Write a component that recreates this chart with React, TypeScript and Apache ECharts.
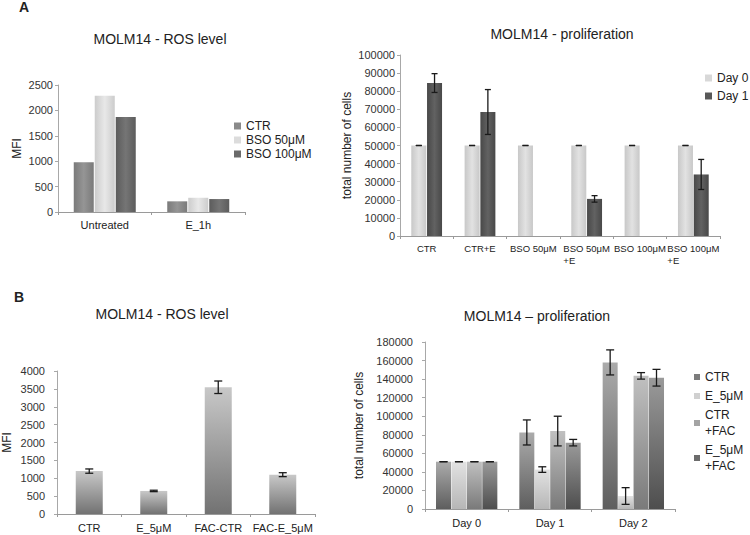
import React, { useEffect, useRef } from 'react';
import * as echarts from 'echarts';

// ---------- Panel A, ROS level ----------
const rosACategories = ['Untreated', 'E_1h'];
const rosACtr = [980, 210];
const rosABso50 = [2290, 280];
const rosABso100 = [1870, 255];
const rosATicks = { max: 2500, interval: 500 };

// ---------- Panel A, proliferation ----------
const profACategories = ['CTR', 'CTR+E', 'BSO 50μM', 'BSO 50μM\n+E', 'BSO 100μM', 'BSO 100μM\n+E'];
const profADay0 = [50000, 50000, 50000, 50000, 50000, 50000];
const profADay0Err = [0, 0, 0, 0, 0, 0];
const profADay1 = [84500, 68500, 0, 20500, 0, 34000];
const profADay1Err = [5200, 12400, 0, 1800, 0, 8300];
const profATicks = { max: 100000, interval: 10000 };

// ---------- Panel B, ROS level ----------
const rosBCategories = ['CTR', 'E_5μM', 'FAC-CTR', 'FAC-E_5μM'];
const rosBValues = [1200, 645, 3545, 1100];
const rosBErr = [60, 20, 175, 55];
const rosBTicks = { max: 4000, interval: 500 };

// ---------- Panel B, proliferation ----------
const profBCategories = ['Day 0', 'Day 1', 'Day 2'];
const profBCtr = [51000, 82500, 158000];
const profBCtrErr = [0, 13500, 13500];
const profBE5 = [51000, 42500, 14000];
const profBE5Err = [0, 3000, 9000];
const profBCtrFac = [51000, 84000, 143500];
const profBCtrFacErr = [0, 16000, 3500];
const profBE5Fac = [51000, 71500, 141500];
const profBE5FacErr = [0, 3500, 9000];
const profBTicks = { max: 180000, interval: 20000 };

const FONT = '"Liberation Sans", Arial, Helvetica, sans-serif';

const hGrad = (edge: string, mid: string) =>
  new echarts.graphic.LinearGradient(0, 0, 1, 0, [
    { offset: 0, color: edge },
    { offset: 0.5, color: mid },
    { offset: 1, color: edge },
  ]);
const vGrad = (top: string, bottom: string) =>
  new echarts.graphic.LinearGradient(0, 0, 0, 1, [
    { offset: 0, color: top },
    { offset: 1, color: bottom },
  ]);

const errData = (values: number[], errs: number[], si: number) =>
  values
    .map((v, i) => (v > 0 ? [i, v - errs[i], v + errs[i], si] : null))
    .filter((d) => d !== null) as number[][];

const makeErrorRender = (n: number, barW: number, gap: number, cap: number) => (_params: any, api: any) => {
  const cat = api.value(0);
  const lo = api.value(1);
  const hi = api.value(2);
  const si = api.value(3);
  const top = api.coord([cat, hi]);
  const bot = api.coord([cat, lo]);
  const x = top[0] + (si - (n - 1) / 2) * barW * (1 + gap);
  const style = { stroke: '#1a1a1a', lineWidth: 1.3 };
  return {
    type: 'group',
    children: [
      { type: 'line', shape: { x1: x, y1: top[1], x2: x, y2: bot[1] }, style },
      { type: 'line', shape: { x1: x - cap, y1: top[1], x2: x + cap, y2: top[1] }, style },
      { type: 'line', shape: { x1: x - cap, y1: bot[1], x2: x + cap, y2: bot[1] }, style },
    ],
  };
};

const yAxis = (gridIndex: number, ticks: { max: number; interval: number }, name: string, nameGap: number, margin: number) => ({
  type: 'value',
  gridIndex,
  min: 0,
  max: ticks.max,
  interval: ticks.interval,
  name,
  nameLocation: 'middle',
  nameRotate: 90,
  nameGap,
  nameTextStyle: { fontSize: 12, color: '#222', fontFamily: FONT },
  axisLine: { show: true, lineStyle: { color: '#a8a8a8', width: 1 } },
  axisTick: { show: true, length: 3, lineStyle: { color: '#a8a8a8' } },
  axisLabel: { fontSize: 11, color: '#333', margin, fontFamily: FONT, formatter: (v: number) => String(v) },
  splitLine: { show: false },
});

const xAxis = (gridIndex: number, data: string[], margin: number, extra: any = {}) => ({
  type: 'category',
  gridIndex,
  data,
  axisLine: { show: true, lineStyle: { color: '#9a9a9a', width: 1 } },
  axisTick: { show: true, length: 3, alignWithLabel: false, lineStyle: { color: '#9a9a9a' } },
  axisLabel: { fontSize: 11, color: '#222', margin, interval: 0, fontFamily: FONT, ...extra },
  splitLine: { show: false },
});

const titleStyle = { fontSize: 14, fontWeight: 'normal', color: '#222', fontFamily: FONT };
const legendText = { fontSize: 12, color: '#222', fontFamily: FONT };

export default function App() {
  const ref = useRef<HTMLDivElement>(null);

  useEffect(() => {
    if (!ref.current) return;
    const chart = echarts.init(ref.current, undefined, { renderer: 'svg' });

    const option: any = {
      animation: false,
      backgroundColor: '#ffffff',
      textStyle: { fontFamily: FONT },
      title: [
        { text: 'A', left: 19, top: 0, padding: 0, textStyle: { ...titleStyle, fontWeight: 'bold', fontSize: 14 } },
        { text: 'MOLM14 - ROS level', left: 160, top: 32, padding: 0, textAlign: 'center', textStyle: titleStyle },
        { text: 'MOLM14 - proliferation', left: 562, top: 27, padding: 0, textAlign: 'center', textStyle: titleStyle },
        { text: 'B', left: 14, top: 290, padding: 0, textStyle: { ...titleStyle, fontWeight: 'bold', fontSize: 14 } },
        { text: 'MOLM14 - ROS level', left: 162, top: 307, padding: 0, textAlign: 'center', textStyle: titleStyle },
        { text: 'MOLM14 – proliferation', left: 537, top: 309, padding: 0, textAlign: 'center', textStyle: titleStyle },
      ],
      legend: [
        {
          orient: 'vertical', left: 234, top: 120, padding: 0, itemWidth: 7, itemHeight: 7, itemGap: 2,
          icon: 'rect', textStyle: legendText,
          data: [
            { name: 'CTR', itemStyle: { color: '#8a8a8a' } },
            { name: 'BSO 50μM', itemStyle: { color: '#dcdcdc' } },
            { name: 'BSO 100μM', itemStyle: { color: '#6a6a6a' } },
          ],
        },
        {
          orient: 'vertical', left: 705, top: 72, padding: 0, itemWidth: 7, itemHeight: 7, itemGap: 6,
          icon: 'rect', textStyle: legendText,
          data: [
            { name: 'Day 0', itemStyle: { color: '#d8d8d8' } },
            { name: 'Day 1', itemStyle: { color: '#585858' } },
          ],
        },
        {
          orient: 'vertical', left: 694, top: 369, padding: 0, itemWidth: 6, itemHeight: 6, itemGap: 3,
          icon: 'rect', textStyle: { ...legendText, lineHeight: 16 },
          formatter: (name: string) => name.replace(' +', '\n+'),
          data: [
            { name: 'CTR', itemStyle: { color: '#7c7c7c' } },
            { name: 'E_5μM', itemStyle: { color: '#d0d0d0' } },
            { name: 'CTR +FAC', itemStyle: { color: '#a4a4a4' } },
            { name: 'E_5μM +FAC', itemStyle: { color: '#6c6c6c' } },
          ],
        },
      ],
      grid: [
        { left: 58, top: 85, width: 187, height: 127 },
        { left: 400, top: 55, width: 320, height: 181 },
        { left: 55, top: 371, width: 260, height: 143 },
        { left: 425, top: 342, width: 250, height: 167 },
      ],
      xAxis: [
        xAxis(0, rosACategories, 7),
        xAxis(1, profACategories, 6, {
          fontSize: 9.5,
          lineHeight: 12,
          formatter: (v: string) => {
            const parts = v.split('\n');
            return parts.length > 1 ? `{a|${parts[0]}}\n{b|${parts[1]}}` : `{a|${parts[0]}}`;
          },
          rich: {
            a: { fontSize: 9.5, color: '#222', align: 'left', lineHeight: 12, fontFamily: FONT },
            b: { fontSize: 9.5, color: '#222', align: 'left', lineHeight: 12, fontFamily: FONT },
          },
        }),
        xAxis(2, rosBCategories, 8),
        xAxis(3, profBCategories, 8),
      ],
      yAxis: [
        yAxis(0, rosATicks, 'MFI', 35, 5),
        yAxis(1, profATicks, 'total number of cells', 47, 5),
        yAxis(2, rosBTicks, 'MFI', 44, 12),
        yAxis(3, profBTicks, 'total number of cells', 60, 12),
      ],
      series: [
        // Panel A ROS
        { name: 'CTR', type: 'bar', xAxisIndex: 0, yAxisIndex: 0, barWidth: 20, barGap: '5%', data: rosACtr, itemStyle: { color: hGrad('#7a7a7a', '#959595') } },
        { name: 'BSO 50μM', type: 'bar', xAxisIndex: 0, yAxisIndex: 0, barWidth: 20, barGap: '5%', data: rosABso50, itemStyle: { color: hGrad('#cccccc', '#e8e8e8') } },
        { name: 'BSO 100μM', type: 'bar', xAxisIndex: 0, yAxisIndex: 0, barWidth: 20, barGap: '5%', data: rosABso100, itemStyle: { color: hGrad('#5c5c5c', '#757575') } },
        // Panel A proliferation
        { name: 'Day 0', type: 'bar', xAxisIndex: 1, yAxisIndex: 1, barWidth: 15, barGap: '5%', data: profADay0, itemStyle: { color: hGrad('#c8c8c8', '#e2e2e2') } },
        { name: 'Day 1', type: 'bar', xAxisIndex: 1, yAxisIndex: 1, barWidth: 15, barGap: '5%', data: profADay1, itemStyle: { color: hGrad('#484848', '#626262') } },
        {
          type: 'custom', xAxisIndex: 1, yAxisIndex: 1, z: 5,
          renderItem: makeErrorRender(2, 15, 0.05, 3),
          encode: { x: 0, y: [1, 2] },
          data: [...errData(profADay0, profADay0Err, 0), ...errData(profADay1, profADay1Err, 1)],
        },
        // Panel B ROS
        { name: 'ROS', type: 'bar', xAxisIndex: 2, yAxisIndex: 2, barWidth: 27, data: rosBValues, itemStyle: { color: vGrad('#c8c8c8', '#727272') } },
        {
          type: 'custom', xAxisIndex: 2, yAxisIndex: 2, z: 5,
          renderItem: makeErrorRender(1, 27, 0, 4),
          encode: { x: 0, y: [1, 2] },
          data: errData(rosBValues, rosBErr, 0),
        },
        // Panel B proliferation
        { name: 'CTR', type: 'bar', xAxisIndex: 3, yAxisIndex: 3, barWidth: 15, barGap: '3%', data: profBCtr, itemStyle: { color: vGrad('#ababab', '#5e5e5e') } },
        { name: 'E_5μM', type: 'bar', xAxisIndex: 3, yAxisIndex: 3, barWidth: 15, barGap: '3%', data: profBE5, itemStyle: { color: vGrad('#e2e2e2', '#b6b6b6') } },
        { name: 'CTR +FAC', type: 'bar', xAxisIndex: 3, yAxisIndex: 3, barWidth: 15, barGap: '3%', data: profBCtrFac, itemStyle: { color: vGrad('#c0c0c0', '#7a7a7a') } },
        { name: 'E_5μM +FAC', type: 'bar', xAxisIndex: 3, yAxisIndex: 3, barWidth: 15, barGap: '3%', data: profBE5Fac, itemStyle: { color: vGrad('#9a9a9a', '#4e4e4e') } },
        {
          type: 'custom', xAxisIndex: 3, yAxisIndex: 3, z: 5,
          renderItem: makeErrorRender(4, 15, 0.03, 4),
          encode: { x: 0, y: [1, 2] },
          data: [
            ...errData(profBCtr, profBCtrErr, 0),
            ...errData(profBE5, profBE5Err, 1),
            ...errData(profBCtrFac, profBCtrFacErr, 2),
            ...errData(profBE5Fac, profBE5FacErr, 3),
          ],
        },
      ],
    };

    chart.setOption(option);
    return () => chart.dispose();
  }, []);

  return (
    <div
      ref={ref}
      style={{ position: 'fixed', left: 0, top: 0, width: 750, height: 535, background: '#fff' }}
    />
  );
}
